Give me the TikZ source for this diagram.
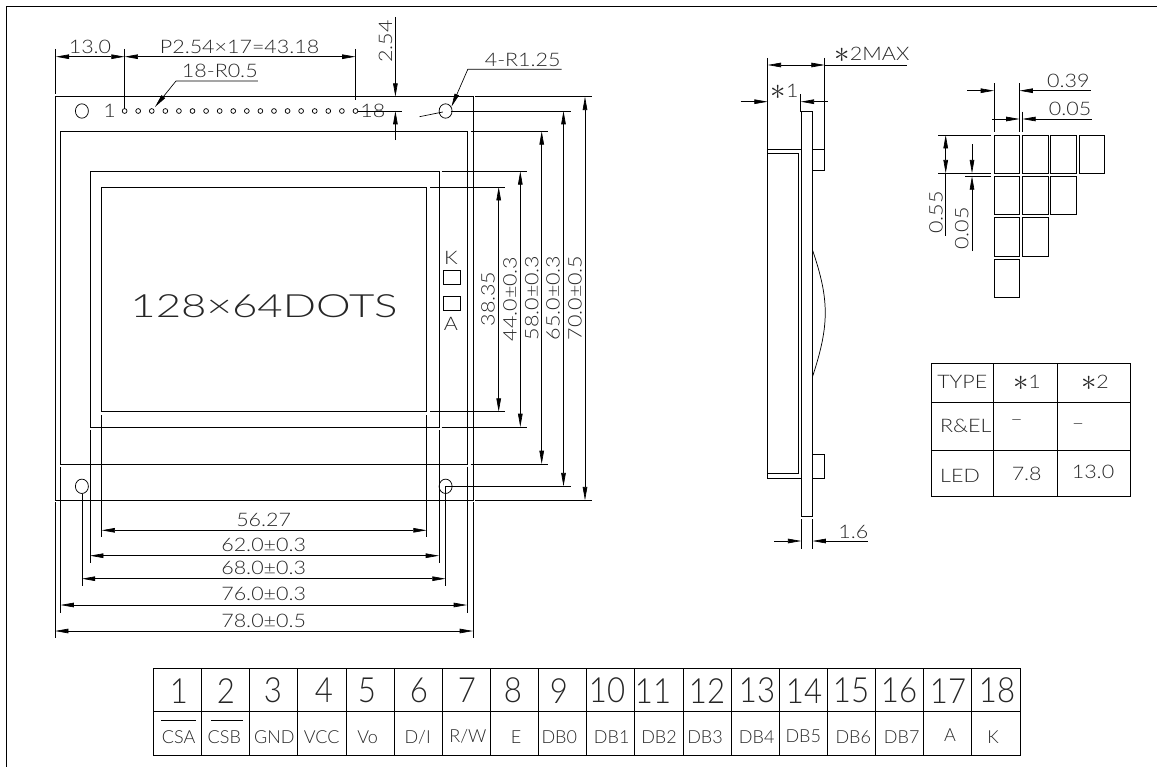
\documentclass[tikz,border=0pt]{standalone}
\usepackage{fontspec}
\setmainfont{Lato}[UprightFont=* Light, FakeStretch=1.15]
\newfontfamily\plainfont{Lato}[UprightFont=* Light]
\newcommand{\starmark}{\raisebox{-0.1em}{\scalebox{1.6}{$\ast$}}}
\usetikzlibrary{arrows.meta}
\tikzset{
	dimtext/.style = {inner sep = 0pt, text = black!85, font = \fontsize{14}{14}\selectfont},
	signal/.style = {inner sep = 0pt, text = black!85, font = \plainfont\fontsize{13.5}{14}\selectfont},
	numeral/.style = {inner sep = 0pt, text = black!85, font = \plainfont\fontsize{26}{26}\selectfont},
	title/.style = {inner sep = 0pt, text = black!85, font = \fontsize{24}{24}\selectfont},
	part/.style = {draw, line width = 0.55pt}
}
\begin{document}
\begin{tikzpicture}[x = 0.75pt, y = -0.75pt, >={Triangle[length = 10pt, width = 3.4pt]}, line width = 0.5pt]
			\useasboundingbox (0,0) rectangle (1157,767);
			\def\boardL{55};
			\def\boardR{473};
			\def\boardT{96.7};
			\def\boardB{500.3};
			\def\panelL{60.5};
			\def\panelR{467};
			\def\panelT{131.3};
			\def\panelB{464};
			\def\bezelL{90};
			\def\bezelR{439};
			\def\bezelT{171.3};
			\def\bezelB{427};
			\def\viewL{101.6};
			\def\viewR{426.6};
			\def\viewT{187};
			\def\viewB{411.7};
			\def\holeL{81.9};
			\def\holeR{445.6};
			\def\holeT{111};
			\def\holeB{486.3};
			\def\pinA{124.6};
			\def\pinZ{355.5};

			\draw[line width = 1.1pt] (1157,6.3) -- (6.7,6.3) -- (6.7,767);

			\begin{scope}[part]
				\draw (\boardL,\boardT) rectangle (\boardR,\boardB);
				\draw (\panelL,\panelT) rectangle (\panelR,\panelB);
				\draw (\bezelL,\bezelT) rectangle (\bezelR,\bezelB);
				\draw (\viewL,\viewT) rectangle (\viewR,\viewB);
				\draw (\holeL,\holeT) ellipse (6.5 and 7.2);
				\draw (\holeR,\holeT) ellipse (6.5 and 7.2);
				\draw (\holeL,\holeB) ellipse (6.5 and 7.2);
				\draw (\holeR,\holeB) ellipse (6.5 and 7.2);
				\foreach \n in {0,...,17}
					\draw ({\pinA+\n*13.58},\holeT) circle (2.4);
			\end{scope}

			\node[title] (dots) at (264,306) {\scalebox{1.19}[1]{128×64DOTS}};
			\node[dimtext] (pinFirst) at (109.5,111) {1};
			\node[dimtext] (pinLast) at (372.9,111) {18};
			\node[dimtext] (ledK) at (451,258) {K};
			\node[dimtext] (ledA) at (451,324) {A};
			\draw[part] (443,270) rectangle (460.3,284);
			\draw[part] (443,296) rectangle (460.3,310.7);

			\begin{scope}
				\draw (\boardR+2,\boardT) -- (592,\boardT);
				\draw (\holeR+5,\holeT) -- (570.6,\holeT);
				\draw (\panelR+3.5,\panelT) -- (548.4,\panelT);
				\draw (\bezelR+2.7,\bezelT) -- (527,\bezelT);
				\draw (\viewR+3.4,\viewT) -- (505,\viewT);
				\draw (\viewR+3.4,\viewB) -- (505,\viewB);
				\draw (\bezelR+2.7,\bezelB) -- (527,\bezelB);
				\draw (\panelR+3.5,\panelB) -- (548.4,\panelB);
				\draw (\holeR,\holeB) -- (570.6,\holeB);
				\draw (\boardR+2,\boardB) -- (592,\boardB);

				\draw[<->] (498.7,\viewT) -- (498.7,\viewB);
				\draw[<->] (520.3,\bezelT) -- (520.3,\bezelB);
				\draw[<->] (541.7,\panelT) -- (541.7,\panelB);
				\draw[<->] (563.5,\holeT) -- (563.5,\holeB);
				\draw[<->] (585,\boardT) -- (585,\boardB);

				\node[dimtext, rotate = 90] (dimViewH) at (488,299) {38.35};
				\node[dimtext, rotate = 90] (dimBezelH) at (510,299) {44.0±0.3};
				\node[dimtext, rotate = 90] (dimPanelH) at (531.7,298) {58.0±0.3};
				\node[dimtext, rotate = 90] (dimHoleH) at (553,298) {65.0±0.3};
				\node[dimtext, rotate = 90] (dimBoardH) at (575,298) {70.0±0.5};
			\end{scope}

			\begin{scope}
				\draw (\viewL,415) -- (\viewL,537);
				\draw (\viewR,415) -- (\viewR,537);
				\draw (\bezelL,430) -- (\bezelL,563);
				\draw (\bezelR,430) -- (\bezelR,563);
				\draw (\holeL,493.5) -- (\holeL,586);
				\draw (\holeR,\holeB) -- (\holeR,586);
				\draw (\panelL,466.7) -- (\panelL,613);
				\draw (\panelR,466.7) -- (\panelR,613);
				\draw (\boardL,502) -- (\boardL,638);
				\draw (\boardR,502) -- (\boardR,638);

				\draw[<->] (\viewL,530.3) -- (\viewR,530.3);
				\draw[<->] (\bezelL,555.7) -- (\bezelR,555.7);
				\draw[<->] (\holeL,578.7) -- (\holeR,578.7);
				\draw[<->] (\panelL,605) -- (\panelR,605);
				\draw[<->] (\boardL,631) -- (\boardR,631);

				\node[dimtext] (dimViewW) at (263.7,520) {56.27};
				\node[dimtext] (dimBezelW) at (263.7,545) {62.0±0.3};
				\node[dimtext] (dimHoleW) at (263.7,568.3) {68.0±0.3};
				\node[dimtext] (dimPanelW) at (263.7,594.3) {76.0±0.3};
				\node[dimtext] (dimBoardW) at (263.7,620.7) {78.0±0.5};
			\end{scope}

			\begin{scope}
				\draw (55.8,49) -- (55.8,94);
				\draw (\pinA,49) -- (\pinA,109);
				\draw (\pinZ,49) -- (\pinZ,100);
				\draw[<->] (55.8,56.7) -- (\pinA,56.7);
				\draw[<->] (\pinA,56.7) -- (\pinZ,56.7);
				\node[dimtext] (dimEdge) at (90,47) {13.0};
				\node[dimtext] (dimPitch) at (239.6,47) {P2.54×17=43.18};

				\node[dimtext] (dimPinR) at (219.8,70.7) {18-R0.5};
				\draw[->] (257.8,81) -- (176,81) -- (155,107);
				\node[dimtext] (dimHoleR) at (522.7,60) {4-R1.25};
				\draw[->] (561.5,69.3) -- (467.8,69.3) -- (451.5,106.7);
				\draw (419.5,116.7) -- (442.9,112);

				\draw (363.8,\boardT) -- (402,\boardT);
				\draw (358,\holeT) -- (402,\holeT);
				\draw[->] (395.4,17) -- (395.4,\boardT);
				\draw[->] (395.4,140) -- (395.4,\holeT);
				\node[dimtext, rotate = 90] (dimRow) at (385.5,41.7) {2.54};
			\end{scope}

			\begin{scope}[part]
				\draw (801.3,111.7) rectangle (812.5,516);
				\draw (767.7,149) rectangle (801.3,478.3);
				\draw (767.7,153.3) -- (798.3,153.3) -- (798.3,473.3) -- (767.7,473.3);
				\draw (812.5,149) rectangle (824.7,170.3);
				\draw (812.5,454.3) rectangle (824.7,478.3);
				\draw (812.5,250) .. controls (829.5,300) and (829.5,325) .. (812.5,376.7);
			\end{scope}

			\begin{scope}
				\draw (767.7,58) -- (767.7,149);
				\draw (824.7,58) -- (824.7,149);
				\draw (800.7,94.3) -- (800.7,111.7);
				\draw[<->] (767.7,65) -- (824.7,65);
				\draw (824.7,65) -- (907.3,65);
				\node[dimtext] (dimMax) at (872,55) {\starmark 2MAX};
				\draw[->] (740.7,101.7) -- (767.7,101.7);
				\draw[->] (827.7,101.7) -- (800.7,101.7);
				\node[dimtext] (dimStarA) at (784.7,92.3) {\starmark 1};

				\draw (801.3,519.3) -- (801.3,549);
				\draw (812.5,519.3) -- (812.5,549);
				\draw[->] (774.3,541) -- (801.3,541);
				\draw[->] (867.7,541) -- (812.5,541);
				\node[dimtext] (dimThick) at (853.3,532.3) {1.6};
			\end{scope}

			\begin{scope}[part]
				\foreach \col/\row in {0/0,1/0,2/0,3/0,0/1,1/1,2/1,0/2,1/2,0/3}
					\draw ({994+\col*28.35},{135+\row*41.3}) rectangle ({1019.7+\col*28.35},{173.3+\row*41.3});
			\end{scope}

			\begin{scope}
				\draw (994,83.3) -- (994,131.7);
				\draw (1019.5,83.3) -- (1019.5,131.7);
				\draw (1022.3,111.7) -- (1022.3,131.7);
				\draw[->] (967,90.7) -- (994,90.7);
				\draw[->] (1090.7,90.7) -- (1019.5,90.7);
				\draw[->] (992.3,119) -- (1019.5,119);
				\draw[->] (1091.7,119) -- (1022.3,119);
				\node[dimtext] (dimDotW) at (1068.3,80.7) {0.39};
				\node[dimtext] (dimGapW) at (1070,109) {0.05};

				\draw (938.3,135) -- (991,135);
				\draw (938.3,173.3) -- (991,173.3);
				\draw (965,176.3) -- (991,176.3);
				\draw[<->] (945.7,135) -- (945.7,173.3);
				\draw (945.7,173.3) -- (945.7,235.7);
				\draw[->] (972,144.3) -- (972,173.3);
				\draw[->] (972,251) -- (972,176.3);
				\node[dimtext, rotate = 90] (dimDotH) at (936,212.3) {0.55};
				\node[dimtext, rotate = 90] (dimGapH) at (961.7,228.3) {0.05};
			\end{scope}

			\begin{scope}[part]
				\draw (931.7,363.7) rectangle (1130,496.7);
				\draw (993,363.7) -- (993,496.7);
				\draw (1057.3,363.7) -- (1057.3,496.7);
				\draw (931.7,402) -- (1130,402);
				\draw (931.7,450) -- (1130,450);
			\end{scope}

			\node[dimtext] (typeHead) at (962.3,381.7) {TYPE};
			\node[dimtext] (typeOne) at (1027,383) {\starmark 1};
			\node[dimtext] (typeTwo) at (1095,383) {\starmark 2};
			\node[dimtext] (typeRel) at (965.7,426) {R\&EL};
			\node[dimtext] (relOne) at (1016.7,423) {--};
			\node[dimtext] (relTwo) at (1078,427) {--};
			\node[dimtext] (typeLed) at (960,476) {LED};
			\node[dimtext] (ledOne) at (1026.7,474) {7.8};
			\node[dimtext] (ledTwo) at (1093,471.7) {13.0};

			\begin{scope}[part]
				\draw (153.3,668.3) rectangle (1020,755.3);
				\draw (153.3,711.7) -- (1020,711.7);
				\foreach \n in {1,...,17}
					\draw ({153.3+\n*48.15},668.3) -- ({153.3+\n*48.15},755.3);
			\end{scope}

			\foreach \n/\x in {1/179,2/226,3/273,4/324,5/367,6/419,7/467,8/513,9/559,10/607,11/653,12/707,13/757,14/804,15/851,16/899,17/948,18/997}
				\node[numeral] (num\n) at (\x,690.7) {\scalebox{0.9}[1]{\n}};

			\foreach \sig/\x/\y [count = \i] in {CSA/178.7/737.3,CSB/224.3/737.3,GND/274.3/737.3,VCC/321.7/737.3,Vo/367.7/737.3,{D/I}/417.7/737.3,{R/W}/468/736,E/516/737.3,DB0/559.3/737.3,DB1/611.7/737.3,DB2/659/737.3,DB3/705/737.3,DB4/756.7/737.3,DB5/803.3/736,DB6/853.3/737.3,DB7/901.7/737.3,A/950/735,K/993/737.3}
				\node[signal] (sig\i) at (\x,\y) {\sig};

			\draw (161.3,720.7) -- (195.7,720.7);
			\draw (211,720.7) -- (243.3,720.7);
		\end{tikzpicture}
\end{document}
